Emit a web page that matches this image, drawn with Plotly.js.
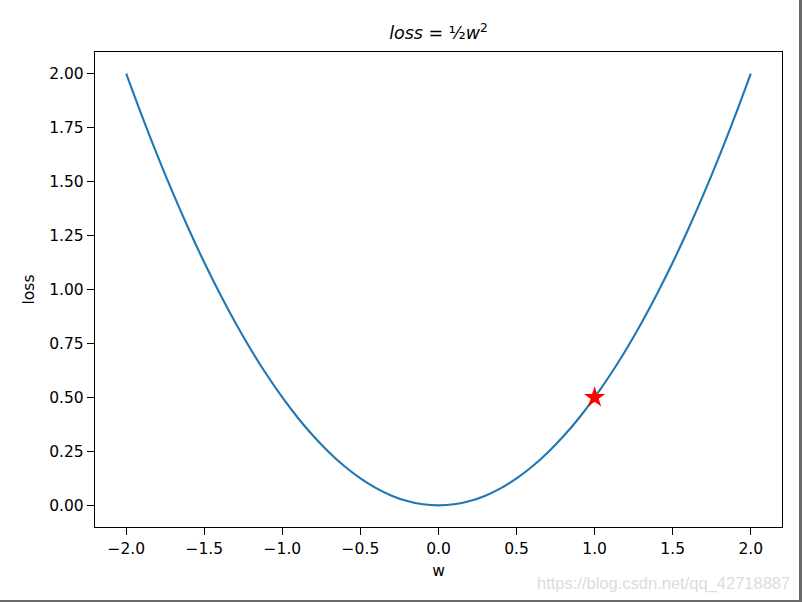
<!DOCTYPE html>
<html>
<head>
<meta charset="utf-8">
<script src="https://cdn.plot.ly/plotly-3.0.1.min.js"></script>
<style>
html,body{margin:0;padding:0;background:#fff;}
#plot{width:799px;height:600px;border-right:3px solid #6a6a6a;border-bottom:2px solid #6a6a6a;}
</style>
</head>
<body>
<div id="plot"></div>
<script>
// values
const w = [-2.0,-1.9,-1.8,-1.7,-1.6,-1.5,-1.4,-1.3,-1.2,-1.1,-1.0,-0.9,-0.8,-0.7,-0.6,-0.5,-0.4,-0.3,-0.2,-0.1,0.0,
           0.1,0.2,0.3,0.4,0.5,0.6,0.7,0.8,0.9,1.0,1.1,1.2,1.3,1.4,1.5,1.6,1.7,1.8,1.9,2.0];
const loss = [2.0,1.805,1.62,1.445,1.28,1.125,0.98,0.845,0.72,0.605,0.5,0.405,0.32,0.245,0.18,0.125,0.08,0.045,0.02,0.005,0.0,
              0.005,0.02,0.045,0.08,0.125,0.18,0.245,0.32,0.405,0.5,0.605,0.72,0.845,0.98,1.125,1.28,1.445,1.62,1.805,2.0];
const pointW = [1.0];
const pointLoss = [0.5];
const xTicks = [-2.0,-1.5,-1.0,-0.5,0.0,0.5,1.0,1.5,2.0];
const xTickText = ["\u22122.0","\u22121.5","\u22121.0","\u22120.5","0.0","0.5","1.0","1.5","2.0"];
const yTicks = [0,0.25,0.5,0.75,1.0,1.25,1.5,1.75,2.0];
const yTickText = ["0.00","0.25","0.50","0.75","1.00","1.25","1.50","1.75","2.00"];

const font = {family:"DejaVu Sans", size:15.5, color:"#000"};

const traces = [
  {x:w, y:loss, type:"scatter", mode:"lines", line:{color:"#1f77b4", width:2.1, shape:"spline"}, hoverinfo:"skip"},
  {x:pointW, y:pointLoss, type:"scatter", mode:"markers",
   marker:{symbol:"star", color:"red", size:16, line:{width:0}}, hoverinfo:"skip"}
];

const axisCommon = {
  showgrid:false, zeroline:false, showline:true, mirror:true,
  linecolor:"#000", linewidth:1.2, ticks:"outside", ticklen:7, tickwidth:1.2, tickcolor:"#000",
  tickfont:font
};

const layout = {
  width:799, height:600,
  margin:{l:95, r:16.5, t:52, b:72.5},
  paper_bgcolor:"#fff", plot_bgcolor:"#fff",
  showlegend:false,
  title:{text:"<i>loss</i> = ½<i>w</i><sup>2</sup>", font:{family:"DejaVu Sans", size:17.5, color:"#000"},
         x:0.5, xref:"paper", y:1-33/600, yref:"container", yanchor:"middle"},
  xaxis:Object.assign({}, axisCommon, {range:[-2.2,2.2], tickvals:xTicks, ticktext:xTickText,
         title:{text:"w", font:font, standoff:8}}),
  yaxis:Object.assign({}, axisCommon, {range:[-0.1,2.1], tickvals:yTicks, ticktext:yTickText,
         title:{text:"loss", font:font, standoff:10}}),
  annotations:[{text:"https://blog.csdn.net/qq_42718887", xref:"paper", yref:"paper", x:1.015, y:-0.118,
    xanchor:"right", yanchor:"middle", showarrow:false,
    font:{family:"Liberation Sans", size:16.5, color:"#dcdcdc"}}]
};

Plotly.newPlot("plot", traces, layout, {displayModeBar:false, staticPlot:true});
</script>
</body>
</html>
